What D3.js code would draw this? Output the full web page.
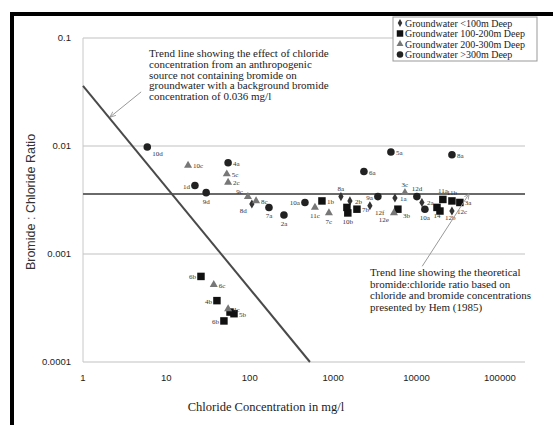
<!DOCTYPE html>
<html>
<head>
<meta charset="utf-8">
<script src="https://cdn.jsdelivr.net/npm/d3@7"></script>
<style>
  body { margin: 0; background: #fff; }
  svg { display: block; }
</style>
</head>
<body>
<svg width="553" height="425"></svg>
<script>
var svg = d3.select("svg"),
    width = +svg.attr("width"),
    height = +svg.attr("height");

// legend names
var seriesNames = ["Groundwater <100m Deep", "Groundwater 100-200m Deep",
                   "Groundwater 200-300m Deep", "Groundwater >300m Deep"];

// [chloride mg/l, bromide:chloride ratio, label]
var shallowPts = [
    [1240, 0.0034, "8a"], [1590, 0.0031, "2b"], [106, 0.0029, "8d"],
    [2760, 0.0028, "12f"], [5510, 0.0033, "1a"], [11600, 0.0030, "2a"],
    [26600, 0.0025, "12c"]
];
var midPts = [
    [734, 0.0031, "1b"], [1463, 0.0027, ""], [1500, 0.0024, "10b"],
    [1930, 0.0026, "7b"], [26, 0.00062, "6b"], [40.4, 0.00037, "4b"],
    [58, 0.00029, ""], [64.7, 0.00028, "5b"], [49, 0.00024, "6b"],
    [5980, 0.0026, "3b"], [17600, 0.0027, "14"], [19100, 0.0025, "12b"],
    [20700, 0.0032, "11a"], [26600, 0.0031, "11b"], [33100, 0.0030, "3a"]
];
var deepPts = [
    [18.2, 0.0066, "10c"], [53, 0.0055, "5c"], [55, 0.0046, "2c"],
    [95, 0.0034, "9c"], [119, 0.0031, "8c"], [37, 0.00052, "6c"],
    [55, 0.00031, "4c"], [605, 0.0027, "11c"], [890, 0.0024, "7c"],
    [7260, 0.0037, "3c"], [5360, 0.0024, "12e"]
];
var deepestPts = [
    [5.9, 0.0098, "10d"], [22, 0.0043, "1d"], [30, 0.0037, "9d"],
    [55, 0.0070, "4a"], [170, 0.0027, "7a"], [257, 0.0023, "2a"],
    [459, 0.0030, "10a"], [2340, 0.0058, "6a"], [4930, 0.0088, "5a"],
    [26600, 0.0083, "8a"], [3440, 0.0034, "9a"], [10100, 0.0034, "12d"],
    [12600, 0.0026, "10a"]
];

// label side for each point, same order as above
var shallowSide = ["t", "r", "bl", "br", "r", "r", "r"];
var midSide = ["r", "r", "b", "r", "l", "l", "r", "r", "l", "br", "b", "br", "t", "t", "r"];
var deepSide = ["r", "r", "r", "tl", "r", "r", "r", "b", "b", "t", "bl"];
var deepestSide = ["br", "l", "b", "r", "b", "b", "l", "r", "r", "r", "l", "t", "b"];

var xTicks = [1, 10, 100, 1000, 10000, 100000];
var yTicks = [0.0001, 0.001, 0.01, 0.1];

// trend lines
var anthroLine = [[1, 0.036], [527, 0.0001]];
var hemRatio = 0.0036;

var noteTop = ["Trend line showing the effect of chloride",
               "concentration  from an anthropogenic",
               "source not containing bromide on",
               "groundwater with a background bromide",
               "concentration of 0.036 mg/l"];
var noteBottom = ["Trend line showing the theoretical",
                  "bromide:chloride ratio based on",
                  "chloride and bromide concentrations",
                  "presented by Hem (1985)"];
// arrow ends in data units [from, to]
var arrowTop = [[4.98, 0.0317], [2.12, 0.0186]];
var arrowBottom = [[11700, 0.00077], [42600, 0.0036]];

var x = d3.scaleLog().domain([1, 200000]).range([83, 525]);
var y = d3.scaleLog().domain([0.0001, 0.1]).range([362, 38]);

var serif = "'Liberation Serif', 'Times New Roman', serif";
var sans = "'Liberation Sans', Arial, sans-serif";

// outer frame
svg.append("rect")
    .attr("x", 12).attr("y", 14)
    .attr("width", 600).attr("height", 450)
    .attr("fill", "none")
    .attr("stroke", "#000")
    .attr("stroke-width", 4);

// grid
svg.append("g")
    .selectAll("line")
    .data(yTicks)
    .enter().append("line")
    .attr("x1", x(1)).attr("x2", x(200000))
    .attr("y1", function (d) { return y(d); })
    .attr("y2", function (d) { return y(d); })
    .attr("stroke", "#d6d6d6")
    .attr("stroke-width", 1.5);

svg.append("line")
    .attr("x1", x(1)).attr("x2", x(1))
    .attr("y1", y(0.1)).attr("y2", y(0.0001))
    .attr("stroke", "#c8c8c8")
    .attr("stroke-width", 1);

// tick labels
svg.append("g")
    .selectAll("text")
    .data(yTicks)
    .enter().append("text")
    .attr("x", 71)
    .attr("y", function (d) { return y(d) + 3; })
    .attr("text-anchor", "end")
    .attr("font-family", sans)
    .attr("font-size", 9.5)
    .attr("fill", "#222")
    .text(function (d) { return d3.format("")(d); });

svg.append("g")
    .selectAll("text")
    .data(xTicks)
    .enter().append("text")
    .attr("x", function (d) { return x(d); })
    .attr("y", 381)
    .attr("text-anchor", "middle")
    .attr("font-family", sans)
    .attr("font-size", 9.5)
    .attr("fill", "#222")
    .text(function (d) { return d; });

svg.append("text")
    .attr("x", 266).attr("y", 411)
    .attr("text-anchor", "middle")
    .attr("font-family", serif)
    .attr("font-size", 12.5)
    .attr("fill", "#222")
    .text("Chloride Concentration in mg/l");

svg.append("text")
    .attr("transform", "translate(35,202) rotate(-90)")
    .attr("text-anchor", "middle")
    .attr("font-family", sans)
    .attr("font-size", 12.5)
    .attr("fill", "#333")
    .text("Bromide : Chloride Ratio");

// trend lines
svg.append("line")
    .attr("x1", x(1)).attr("x2", x(200000))
    .attr("y1", y(hemRatio)).attr("y2", y(hemRatio))
    .attr("stroke", "#6a6a6a")
    .attr("stroke-width", 2);

svg.append("path")
    .datum(anthroLine)
    .attr("d", d3.line()
        .x(function (d) { return x(d[0]); })
        .y(function (d) { return y(d[1]); }))
    .attr("stroke", "#4a4a4a")
    .attr("stroke-width", 2)
    .attr("fill", "none");

// markers
var symbols = [d3.symbolDiamond, d3.symbolSquare, d3.symbolTriangle, d3.symbolCircle];
var symSize = [24, 56, 28, 45];
var symFill = ["#333", "#111", "#777", "#222"];
var allSeries = [shallowPts, midPts, deepPts, deepestPts];
var allSides = [shallowSide, midSide, deepSide, deepestSide];

function labelOffset(side) {
    var dx = 5, dy = 3, anchor = "start";
    if (side.indexOf("l") >= 0) { dx = -5; anchor = "end"; }
    if (side === "b") { dx = 0; dy = 11; anchor = "middle"; }
    if (side === "t") { dx = 0; dy = -6; anchor = "middle"; }
    if (side === "bl" || side === "br") dy = 9;
    if (side === "tl") dy = -3;
    return [dx, dy, anchor];
}

allSeries.forEach(function (pts, i) {
    var g = svg.append("g");
    g.selectAll("path")
        .data(pts)
        .enter().append("path")
        .attr("transform", function (d) {
            return "translate(" + x(d[0]) + "," + y(d[1]) + ")";
        })
        .attr("d", d3.symbol().type(symbols[i]).size(symSize[i]))
        .attr("fill", symFill[i]);

    g.selectAll("text")
        .data(pts)
        .enter().append("text")
        .each(function (d, j) {
            var o = labelOffset(allSides[i][j]);
            d3.select(this)
                .attr("x", x(d[0]) + o[0])
                .attr("y", y(d[1]) + o[1])
                .attr("text-anchor", o[2]);
        })
        .attr("font-family", serif)
        .attr("font-size", 7)
        .attr("fill", "#333")
        .text(function (d) { return d[2]; });
});

// annotations
function drawNote(lines, x0, y0, step) {
    svg.append("text")
        .attr("font-family", serif)
        .attr("font-size", 11)
        .attr("fill", "#222")
        .selectAll("tspan")
        .data(lines)
        .enter().append("tspan")
        .attr("x", x0)
        .attr("y", function (d, i) { return y0 + i * step; })
        .text(function (d) { return d; });
}
drawNote(noteTop, 149, 57, 10.8);
drawNote(noteBottom, 370, 276, 11.5);

svg.append("defs").append("marker")
    .attr("id", "arr")
    .attr("viewBox", "0 0 10 10")
    .attr("refX", 9).attr("refY", 5)
    .attr("markerWidth", 6).attr("markerHeight", 6)
    .attr("orient", "auto")
    .append("path")
    .attr("d", "M0,1 L10,5 L0,9")
    .attr("fill", "none")
    .attr("stroke", "#888")
    .attr("stroke-width", 1.2);

[arrowTop, arrowBottom].forEach(function (a) {
    svg.append("line")
        .attr("x1", x(a[0][0])).attr("y1", y(a[0][1]))
        .attr("x2", x(a[1][0])).attr("y2", y(a[1][1]))
        .attr("stroke", "#999")
        .attr("stroke-width", 1)
        .attr("marker-end", "url(#arr)");
});

// legend
var legend = svg.append("g").attr("transform", "translate(393,17)");
legend.append("rect")
    .attr("width", 144).attr("height", 44)
    .attr("fill", "#fff")
    .attr("stroke", "#999")
    .attr("stroke-width", 1);

var item = legend.selectAll("g")
    .data(seriesNames)
    .enter().append("g")
    .attr("transform", function (d, i) { return "translate(0," + (6 + i * 10.5) + ")"; });

item.append("path")
    .attr("transform", "translate(7,0)")
    .attr("d", function (d, i) { return d3.symbol().type(symbols[i]).size(symSize[i] * 0.75)(); })
    .attr("fill", function (d, i) { return symFill[i]; });

item.append("text")
    .attr("x", 12).attr("y", 3.5)
    .attr("font-family", serif)
    .attr("font-size", 10)
    .attr("fill", "#222")
    .text(function (d) { return d; });
</script>
</body>
</html>
